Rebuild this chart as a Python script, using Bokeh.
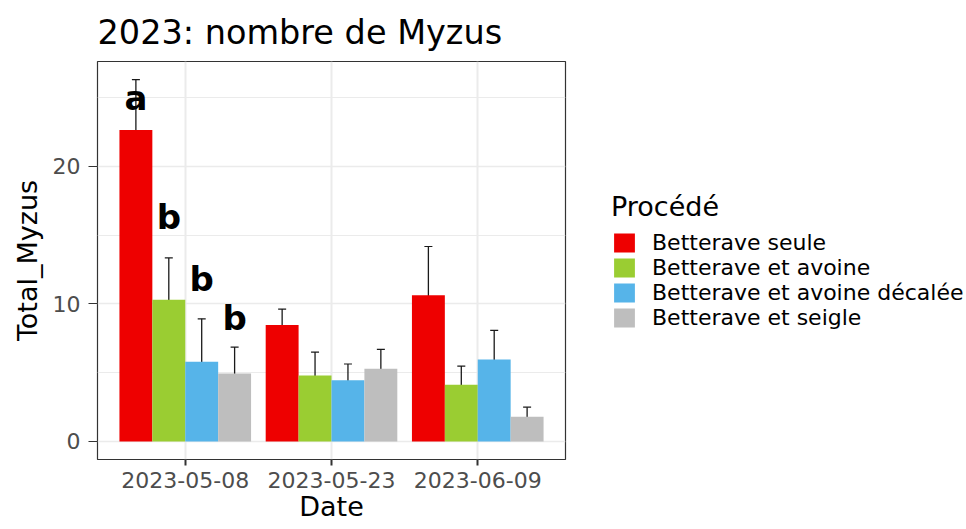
from bokeh.plotting import figure
from bokeh.models import (ColumnDataSource, FactorRange, Range1d, FixedTicker, Whisker,
                          TeeHead, Legend, LegendItem)
from bokeh.transform import dodge
from bokeh.core.properties import value
from bokeh.embed import file_html
from bokeh.resources import INLINE

# ---------------- data ----------------
dates = ["2023-05-08", "2023-05-23", "2023-06-09"]
procedes = ["Betterave seule", "Betterave et avoine",
            "Betterave et avoine décalée", "Betterave et seigle"]

mean_seule = [22.65, 8.47, 10.64]
mean_avoine = [10.30, 4.79, 4.12]
mean_avoine_decalee = [5.80, 4.45, 5.96]
mean_seigle = [4.94, 5.29, 1.79]

se_seule = [3.67, 1.16, 3.54]
se_avoine = [3.05, 1.71, 1.36]
se_avoine_decalee = [3.12, 1.18, 2.11]
se_seigle = [1.92, 1.40, 0.70]

letters = ["a", "b", "b", "b"]          # only for 2023-05-08
letter_y = [25.0, 16.3, 11.85, 8.95]

colors = ["#EE0000", "#9ACD32", "#56B4E9", "#BEBEBE"]
y_ticks = [0, 10, 20]
y_minor = [5, 15, 25]

means = [mean_seule, mean_avoine, mean_avoine_decalee, mean_seigle]
ses = [se_seule, se_avoine, se_avoine_decalee, se_seigle]

# ---------------- figure ----------------
FONT = "DejaVu Sans"
ymax = max(m + s for mm, ss in zip(means, ses) for m, s in zip(mm, ss))

p = figure(x_range=FactorRange(factors=dates, range_padding=0.1, range_padding_units="absolute"),
           y_range=Range1d(-0.05 * ymax, 1.05 * ymax),
           frame_width=468, frame_height=398, output_backend="svg", toolbar_location=None,
           min_border_left=97, min_border_right=401, min_border_top=61, min_border_bottom=70,
           title="2023: nombre de Myzus")

p.background_fill_color = "white"
p.border_fill_color = "white"
p.outline_line_color = "#333333"
p.outline_line_width = 1.2

p.title.text_font = FONT
p.title.text_font_size = "33.5px"
p.title.text_font_style = "normal"
p.title.text_color = "black"
p.title.align = "left"
p.title.standoff = 19

n = len(procedes)
bar_w = 0.9 / n
offsets = [(i - (n - 1) / 2) * bar_w for i in range(n)]

items = []
for i, name in enumerate(procedes):
    src = ColumnDataSource(dict(
        date=dates,
        mean=means[i],
        upper=[m + s for m, s in zip(means[i], ses[i])],
        lower=[m - s for m, s in zip(means[i], ses[i])],
    ))
    r = p.vbar(x=dodge("date", offsets[i], range=p.x_range), top="mean", bottom=0,
               width=bar_w, source=src, fill_color=colors[i], line_color=None)
    items.append(LegendItem(label=name, renderers=[r]))
    w = Whisker(base=dodge("date", offsets[i], range=p.x_range), upper="upper", lower="lower",
                source=src, line_color="#1a1a1a", line_width=1.3,
                upper_head=TeeHead(size=8, line_color="#1a1a1a", line_width=1.2),
                lower_head=TeeHead(size=8, line_color="#1a1a1a", line_width=1.2))
    p.add_layout(w)

    lsrc = ColumnDataSource(dict(date=[dates[0]], y=[letter_y[i]], t=[letters[i]]))
    p.text(x=dodge("date", offsets[i], range=p.x_range), y="y", text="t", source=lsrc,
           text_font=value(FONT), text_font_style="bold", text_font_size="34px",
           text_align="center", text_baseline="alphabetic", text_color="black")

# axes
p.yaxis.ticker = FixedTicker(ticks=y_ticks, minor_ticks=y_minor)
for ax in (p.xaxis[0], p.yaxis[0]):
    ax.axis_line_color = None
    ax.major_tick_line_color = "#333333"
    ax.minor_tick_line_color = None
    ax.major_tick_in = 0
    ax.major_label_text_font = FONT
    ax.major_label_text_font_size = "22px"
    ax.major_label_text_color = "#4D4D4D"
    ax.axis_label_text_font = FONT
    ax.axis_label_text_font_size = "27px"
    ax.axis_label_text_font_style = "normal"
    ax.axis_label_text_color = "black"

p.xaxis.axis_label = "Date"
p.yaxis.axis_label = "Total_Myzus"
p.xaxis.major_tick_out = 6
p.xaxis.major_tick_line_width = 2
p.xaxis.major_label_standoff = 6
p.xaxis.axis_label_standoff = 0
p.yaxis.major_tick_out = 9
p.yaxis.major_tick_line_width = 1.2
p.yaxis.major_label_standoff = 8
p.yaxis.axis_label_standoff = 7

# grid
p.xgrid.grid_line_color = "#EBEBEB"
p.xgrid.grid_line_width = 2
p.ygrid.grid_line_color = "#EBEBEB"
p.ygrid.grid_line_width = 1.6
p.ygrid.minor_grid_line_color = "#EBEBEB"
p.ygrid.minor_grid_line_width = 1
for g in (p.xgrid[0], p.ygrid[0]):
    g.level = "underlay"

legend = Legend(items=items, location="center_left", title="Procédé",
                title_text_font=FONT, title_text_font_size="27px", title_text_color="black",
                title_text_font_style="normal", title_standoff=8,
                label_text_font=FONT, label_text_font_size="22px", label_text_color="black",
                label_text_line_height=1.0,
                glyph_width=26, glyph_height=24, label_standoff=15, label_height=23,
                spacing=0, padding=0, margin=46,
                border_line_color=None, background_fill_alpha=0)
p.add_layout(legend, "right")

open("out.html", "w").write(file_html(p, INLINE))
